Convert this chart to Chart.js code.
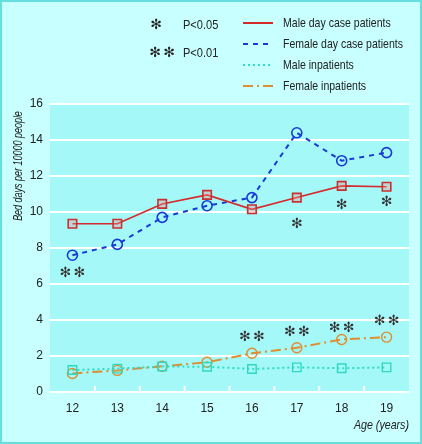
<!DOCTYPE html>
<html>
<head>
<meta charset="utf-8">
<script src="https://cdn.jsdelivr.net/npm/chart.js@4.4.1/dist/chart.umd.min.js"></script>
<style>
  html, body { margin: 0; padding: 0; background: #c8ffff; }
  #wrap { position: relative; width: 422px; height: 444px; }
</style>
</head>
<body>
<div id="wrap"><canvas id="chart" width="422" height="444"></canvas></div>
<script>
// ages on the x axis
const ages = ["12", "13", "14", "15", "16", "17", "18", "19"];

// bed days per 10000 people
const maleDayCase = [9.35, 9.35, 10.45, 10.95, 10.15, 10.8, 11.45, 11.4];
const femaleDayCase = [7.6, 8.2, 9.7, 10.35, 10.8, 14.4, 12.85, 13.3];
const maleInpatients = [1.22, 1.3, 1.42, 1.4, 1.28, 1.37, 1.32, 1.37];
const femaleInpatients = [1.03, 1.2, 1.43, 1.65, 2.15, 2.46, 2.92, 3.05];

// significance markers (age, height in data units)
const sig05Ages = ["17", "18", "19"];
const sig05Y = [9.3, 10.35, 10.55];
const sig01Ages = ["12", "16", "17", "18", "19"];
const sig01Y = [6.6, 3.05, 3.3, 3.55, 3.9];

const yTicks = [0, 2, 4, 6, 8, 10, 12, 14, 16];

const FONT = "'Liberation Sans', Arial, sans-serif";
const STAR = "\u273B";

function drawStars(ctx, x, y, n) {
  if (n === 1) {
    ctx.fillText(STAR, x, y);
  } else {
    ctx.fillText(STAR, x - 7, y);
    ctx.fillText(STAR, x + 7, y);
  }
}

// text squeezed sideways, the source uses a condensed face
function narrowText(ctx, text, x, y, squeeze) {
  ctx.save();
  ctx.translate(x, y);
  ctx.scale(squeeze, 1);
  ctx.fillText(text, 0, 0);
  ctx.restore();
}

const backgroundPlugin = {
  id: "bg",
  beforeDraw(chart) {
    const { ctx, chartArea: a } = chart;
    ctx.save();
    ctx.fillStyle = "#c8ffff";
    ctx.fillRect(0, 0, chart.width, chart.height);
    ctx.strokeStyle = "#66dede";
    ctx.lineWidth = 2;
    ctx.strokeRect(1, 1, chart.width - 2, chart.height - 2);
    ctx.fillStyle = "#a5f8f8";
    ctx.fillRect(a.left, a.top, a.right - a.left, a.bottom - a.top);
    ctx.restore();
  },
  afterDatasetsDraw(chart) {
    const { ctx, chartArea: a, scales } = chart;
    ctx.save();
    // small white ticks between categories
    ctx.strokeStyle = "#ffffff";
    ctx.lineWidth = 2;
    for (let i = 1; i < ages.length; i++) {
      const x = (scales.x.getPixelForValue(i - 1) + scales.x.getPixelForValue(i)) / 2;
      ctx.beginPath();
      ctx.moveTo(x, a.bottom);
      ctx.lineTo(x, a.bottom - 6);
      ctx.stroke();
    }
    // significance stars
    ctx.fillStyle = "#333";
    ctx.font = "14px 'DejaVu Sans', sans-serif";
    ctx.textAlign = "center";
    ctx.textBaseline = "middle";
    sig05Ages.forEach((age, i) => {
      drawStars(ctx, scales.x.getPixelForValue(ages.indexOf(age)), scales.y.getPixelForValue(sig05Y[i]), 1);
    });
    sig01Ages.forEach((age, i) => {
      drawStars(ctx, scales.x.getPixelForValue(ages.indexOf(age)), scales.y.getPixelForValue(sig01Y[i]), 2);
    });
    ctx.restore();
  },
  afterDraw(chart) {
    const { ctx, chartArea: a } = chart;
    ctx.save();
    ctx.fillStyle = "#222";
    ctx.textBaseline = "middle";

    // y title
    ctx.save();
    ctx.translate(18, 166);
    ctx.rotate(-Math.PI / 2);
    ctx.font = "italic 13px " + FONT;
    ctx.textAlign = "center";
    narrowText(ctx, "Bed days per 10000 people", 0, 0, 0.69);
    ctx.restore();

    // x title
    ctx.font = "italic 13px " + FONT;
    ctx.textAlign = "right";
    narrowText(ctx, "Age (years)", a.right, 425, 0.82);

    // legend
    ctx.font = "14px 'DejaVu Sans', sans-serif";
    ctx.textAlign = "center";
    drawStars(ctx, 156, 25, 1);
    drawStars(ctx, 162, 53, 2);
    ctx.font = "13px " + FONT;
    ctx.textAlign = "left";
    narrowText(ctx, "P<0.05", 183, 25, 0.85);
    narrowText(ctx, "P<0.01", 183, 53, 0.85);
    chart.data.datasets.forEach((ds, i) => {
      const y = 23 + i * 21;
      ctx.save();
      ctx.strokeStyle = ds.borderColor;
      ctx.lineWidth = 2;
      ctx.setLineDash(ds.borderDash || []);
      ctx.beginPath();
      ctx.moveTo(243, y);
      ctx.lineTo(273, y);
      ctx.stroke();
      ctx.restore();
      narrowText(ctx, ds.label, 283, y, 0.81);
    });
    ctx.restore();
  }
};

new Chart(document.getElementById("chart"), {
  type: "line",
  data: {
    labels: ages,
    datasets: [
      {
        label: "Male day case patients",
        data: maleDayCase,
        borderColor: "#d42a2a",
        borderWidth: 1.6,
        pointStyle: "rect",
        pointRadius: 6,
        pointBorderWidth: 1.6,
        pointBackgroundColor: "rgba(240,150,150,0.35)",
        pointBorderColor: "#c83030"
      },
      {
        label: "Female day case patients",
        data: femaleDayCase,
        borderColor: "#1a3ad8",
        borderWidth: 2,
        borderDash: [5, 5],
        pointStyle: "circle",
        pointRadius: 5,
        pointBorderWidth: 1.6,
        pointBackgroundColor: "rgba(0,0,0,0)",
        pointBorderColor: "#1a3ad8"
      },
      {
        label: "Male inpatients",
        data: maleInpatients,
        borderColor: "#30dcc4",
        borderWidth: 2,
        borderDash: [2, 3],
        pointStyle: "rect",
        pointRadius: 6,
        pointBorderWidth: 1.4,
        pointBackgroundColor: "rgba(0,0,0,0)",
        pointBorderColor: "#30d8c0"
      },
      {
        label: "Female inpatients",
        data: femaleInpatients,
        borderColor: "#e08c30",
        borderWidth: 2,
        borderDash: [10, 4, 2, 4],
        pointStyle: "circle",
        pointRadius: 5,
        pointBorderWidth: 1.4,
        pointBackgroundColor: "rgba(0,0,0,0)",
        pointBorderColor: "#e08c30"
      }
    ]
  },
  options: {
    responsive: false,
    animation: false,
    layout: { padding: { top: 104, right: 13, left: 0, bottom: 0 } },
    plugins: { legend: { display: false }, tooltip: { enabled: false } },
    scales: {
      x: {
        offset: true,
        grid: { display: false },
        border: { display: false },
        ticks: { color: "#222", font: { family: FONT, size: 12 }, padding: 1 },
        afterFit: (s) => { s.height = 52; }
      },
      y: {
        min: 0,
        max: 16,
        afterBuildTicks: (s) => { s.ticks = yTicks.map(v => ({ value: v })); },
        grid: { color: "#ffffff", lineWidth: 2, drawTicks: false },
        border: { display: false },
        ticks: { color: "#222", font: { family: FONT, size: 12 }, padding: 7 },
        afterFit: (s) => { s.width = 50; }
      }
    }
  },
  plugins: [backgroundPlugin]
});
</script>
</body>
</html>
